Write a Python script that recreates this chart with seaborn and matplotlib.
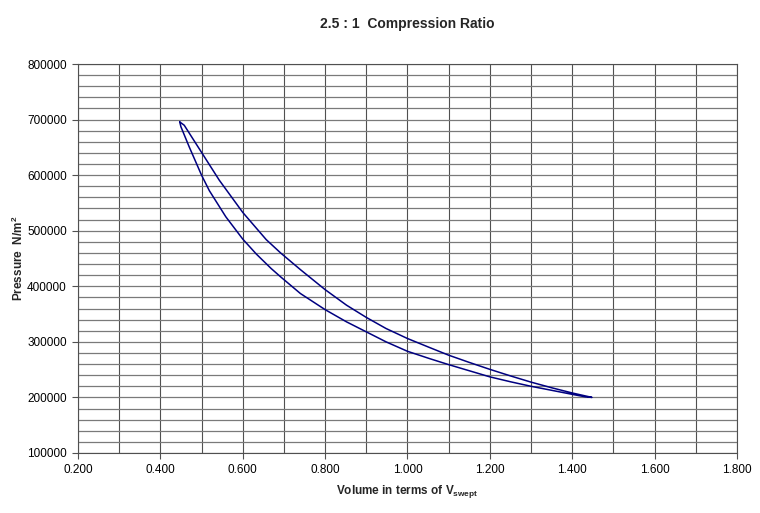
import matplotlib
matplotlib.use("Agg")
import matplotlib.pyplot as plt
from matplotlib.ticker import MultipleLocator, FormatStrFormatter
import pandas as pd
import seaborn as sns

# Expansion stroke (upper curve)
volume_exp = [0.447, 0.458, 0.500, 0.543, 0.600, 0.657, 0.692, 0.740, 0.800, 0.852,
              0.900, 0.948, 1.000, 1.053, 1.100, 1.150, 1.200, 1.251, 1.300, 1.352,
              1.400, 1.448]
pressure_exp = [695800, 689800, 641000, 591000, 533000, 484000, 460000, 430000, 394000, 366000,
                344000, 324000, 306000, 290000, 276000, 263000, 250500, 238500, 227500, 217000,
                208000, 200000]

# Compression stroke (lower curve), back to the start
volume_comp = [1.432, 1.400, 1.352, 1.300, 1.251, 1.200, 1.150, 1.100, 1.053, 1.000,
               0.948, 0.900, 0.852, 0.800, 0.740, 0.692, 0.669, 0.633, 0.600, 0.559,
               0.519, 0.500, 0.470, 0.450, 0.447]
pressure_comp = [201000, 205500, 212500, 220000, 228000, 237000, 248000, 259000, 270000, 283000,
                 300000, 318000, 336000, 358000, 387000, 417000, 432000, 458000, 485000, 525000,
                 572000, 600000, 651000, 687000, 695800]

title = "2.5 : 1  Compression Ratio"

sns.set_theme(style="white")
plt.rcParams["font.family"] = ["Liberation Sans", "DejaVu Sans"]

df = pd.DataFrame({
    "V": volume_exp + volume_comp,
    "P": pressure_exp + pressure_comp,
})

fig = plt.figure(figsize=(7.6, 5.13), dpi=100)
ax = fig.add_axes([0.1026, 0.117, 0.8671, 0.7582])

sns.lineplot(data=df, x="V", y="P", sort=False, estimator=None,
             color="#000080", linewidth=1.1, ax=ax)

ax.set_xlim(0.2, 1.8)
ax.set_ylim(100000, 800000)
ax.xaxis.set_major_locator(MultipleLocator(0.2))
ax.xaxis.set_minor_locator(MultipleLocator(0.1))
ax.yaxis.set_major_locator(MultipleLocator(100000))
ax.yaxis.set_minor_locator(MultipleLocator(20000))
ax.xaxis.set_major_formatter(FormatStrFormatter("%.3f"))
ax.yaxis.set_major_formatter(FormatStrFormatter("%d"))

ax.grid(which="both", axis="x", color="#505050", linewidth=0.8)
ax.grid(which="both", axis="y", color="#7a7a7a", linewidth=0.9)
ax.set_axisbelow(True)

for s in ax.spines.values():
    s.set_color("#505050")
    s.set_linewidth(0.8)

ax.tick_params(axis="both", which="major", direction="out", length=4, width=0.8,
               color="#505050", labelsize=8.5, labelcolor="black", pad=4,
               bottom=True, left=True)
ax.tick_params(axis="both", which="minor", length=0)

ax.set_xlabel("Volume in terms of V$_{\\mathregular{swept}}$", fontsize=8.5,
              fontweight="bold", labelpad=5)
ax.set_ylabel("Pressure  N/m$^{\\mathregular{2}}$", fontsize=8.5,
              fontweight="bold", labelpad=1)
ax.set_title(title, fontsize=10, fontweight="bold", pad=26)

fig.savefig("out.png", dpi=100)
